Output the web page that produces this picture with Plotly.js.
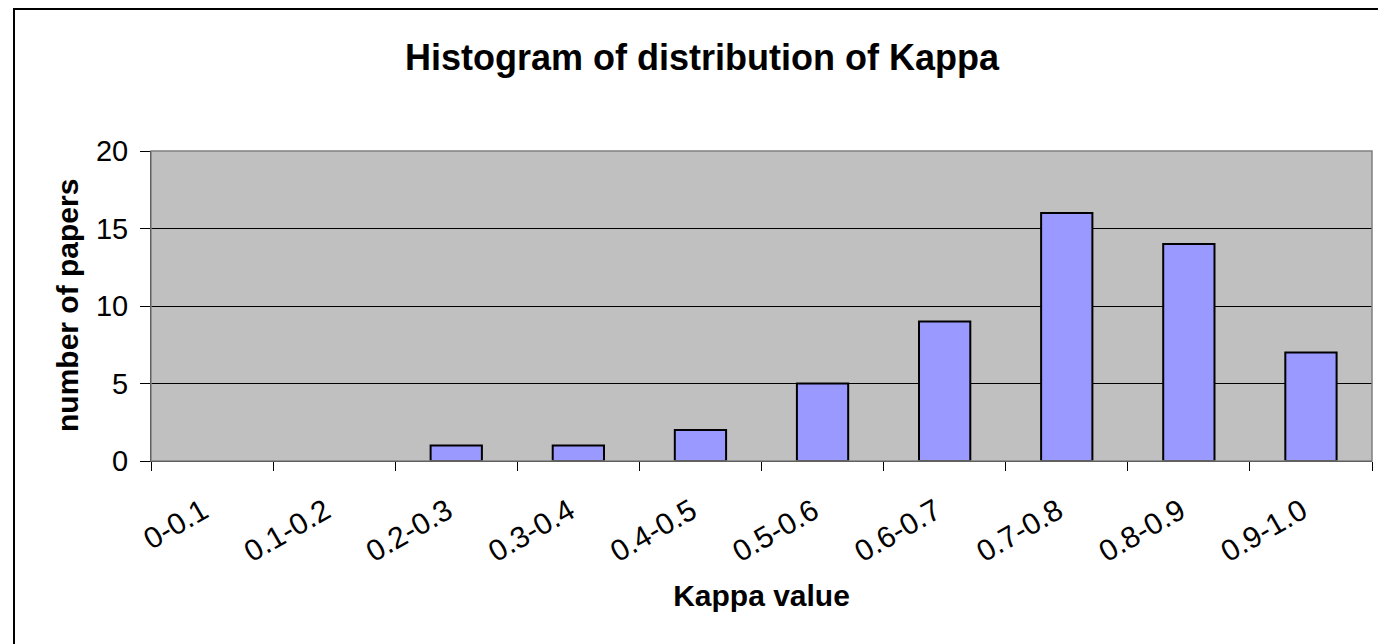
<!DOCTYPE html>
<html>
<head>
<meta charset="utf-8">
<script src="https://cdn.plot.ly/plotly-3.0.1.min.js"></script>
<style>
  html, body { margin: 0; padding: 0; background: #fff; }
  #wrap { position: relative; width: 1378px; height: 644px; overflow: hidden; }
  #chart { position: absolute; left: 0; top: 0; width: 1378px; height: 644px; }
  #frame { position: absolute; left: 13px; top: 8px; width: 1400px; height: 700px;
           border-left: 2px solid #000; border-top: 2px solid #000; pointer-events: none; }
</style>
</head>
<body>
<div id="wrap">
  <div id="chart"></div>
  <div id="frame"></div>
</div>
<script>
const categories = ["0-0.1", "0.1-0.2", "0.2-0.3", "0.3-0.4", "0.4-0.5",
                    "0.5-0.6", "0.6-0.7", "0.7-0.8", "0.8-0.9", "0.9-1.0"];
const paperCounts = [0, 0, 1, 1, 2, 5, 9, 16, 14, 7];
const yTickValues = [0, 5, 10, 15, 20];

const FONT = "Liberation Sans, Arial, Helvetica, sans-serif";
const PLOT_L = 151, PLOT_W = 1378 - 151 - 6;

const data = [{
  type: "bar",
  x: categories,
  y: paperCounts,
  marker: {
    color: "#9999ff",
    line: { color: "#000000", width: paperCounts.map(v => v > 0 ? 2 : 0) }
  },
  hoverinfo: "x+y"
}];

const layout = {
  width: 1378,
  height: 644,
  margin: { l: PLOT_L, r: 6, t: 151, b: 183, pad: 0 },
  paper_bgcolor: "#ffffff",
  plot_bgcolor: "#c0c0c0",
  bargap: 0.58,
  showlegend: false,
  font: { family: FONT, color: "#000", size: 28 },
  title: {
    text: "<b>Histogram of distribution of Kappa</b>",
    font: { family: FONT, size: 36, color: "#000" },
    xref: "container", yref: "container",
    x: 702 / 1378, xanchor: "center",
    y: 1 - 57 / 644, yanchor: "middle"
  },
  xaxis: {
    type: "category",
    tickson: "boundaries",
    ticks: "outside",
    ticklen: 9,
    tickwidth: 1,
    tickcolor: "#000",
    tickangle: -30,
    ticklabelstandoff: 20,
    ticklabelshift: -9,
    tickfont: { family: FONT, size: 30, color: "#000" },
    showline: true,
    linecolor: "#000",
    linewidth: 1,
    showgrid: false,
    zeroline: false,
    automargin: false,
    title: {
      text: "<b>Kappa value</b>",
      font: { family: FONT, size: 30, color: "#000" },
      standoff: 18
    }
  },
  yaxis: {
    range: [0, 20],
    tickvals: yTickValues,
    ticks: "outside",
    ticklen: 10,
    tickwidth: 1,
    tickcolor: "#000",
    ticklabelstandoff: 6,
    tickfont: { family: FONT, size: 29, color: "#000" },
    showline: true,
    linecolor: "#000",
    linewidth: 1,
    showgrid: true,
    gridcolor: "#000",
    gridwidth: 1,
    zeroline: false,
    automargin: false
  },
  annotations: [{
    text: "<b>number of papers</b>",
    font: { family: FONT, size: 30, color: "#000" },
    textangle: -90,
    xref: "paper", yref: "paper",
    x: (67 - PLOT_L) / PLOT_W, y: 0.5,
    xanchor: "center", yanchor: "middle",
    showarrow: false
  }],
  shapes: [{
    type: "rect", xref: "paper", yref: "paper",
    x0: 0, x1: 1, y0: 0, y1: 1,
    line: { color: "#808080", width: 1.5 },
    fillcolor: "rgba(0,0,0,0)",
    layer: "above"
  }]
};

Plotly.newPlot("chart", data, layout, { staticPlot: true, displayModeBar: false });
</script>
</body>
</html>
